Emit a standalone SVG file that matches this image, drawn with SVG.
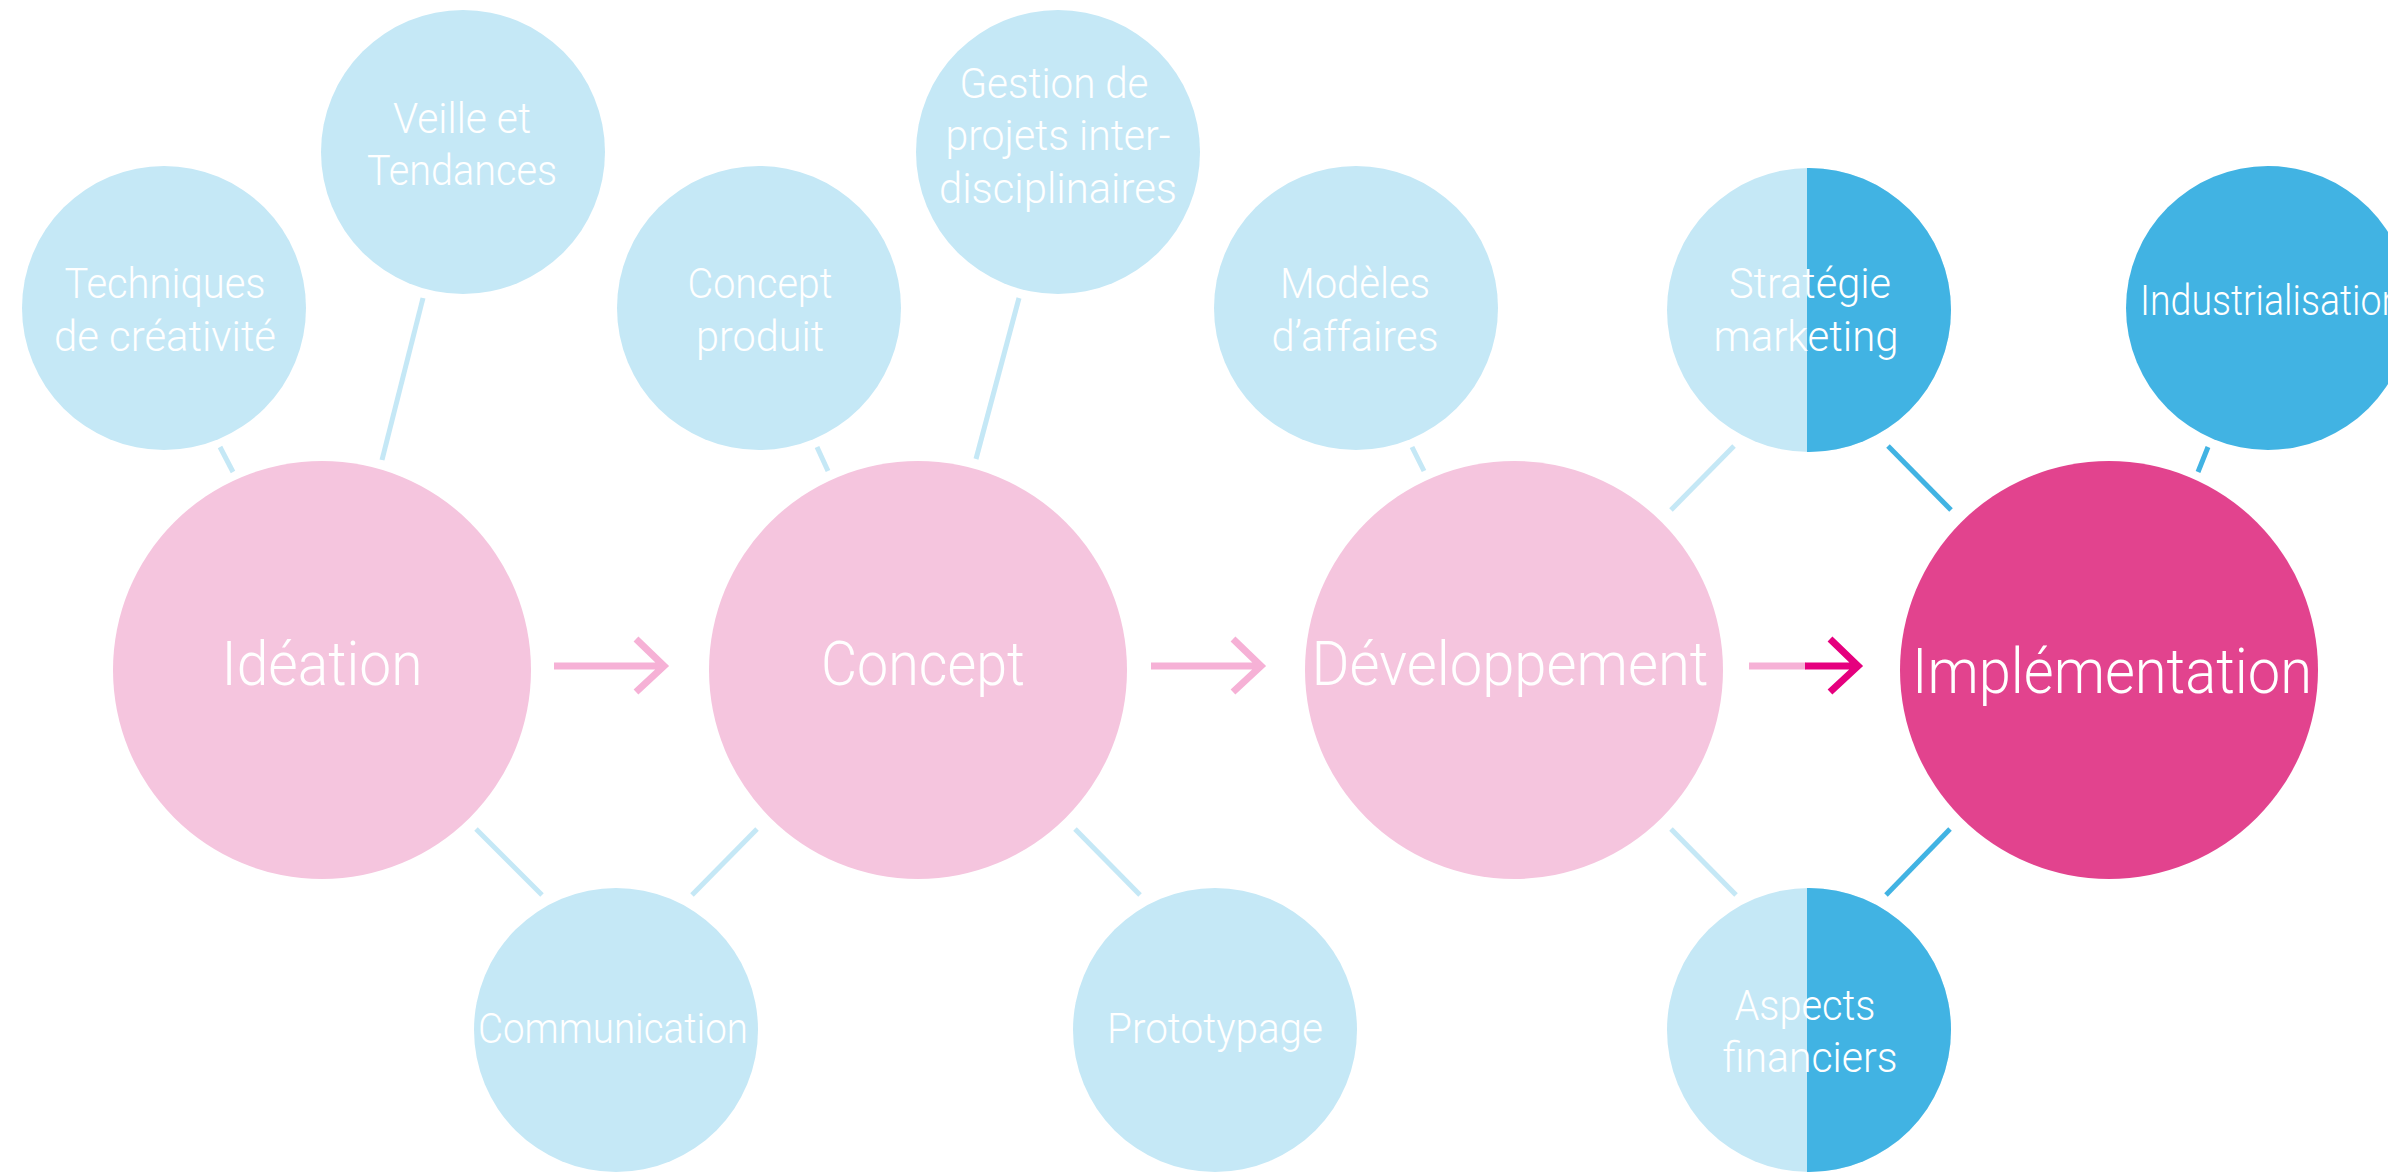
<svg xmlns="http://www.w3.org/2000/svg" width="2388" height="1173" viewBox="0 0 2388 1173">
<style>
.lb{fill:#c5e8f6}
.db{fill:#41b3e3}
.pk{fill:#f5c5de}
.mg{fill:#e2438e}
.c-l{stroke:#c5e8f6;stroke-width:5;fill:none}
.c-d{stroke:#41b3e3;stroke-width:5;fill:none}
.ar{stroke:#f6b1d6;stroke-width:7;fill:none}
.arm{stroke:#e5007e;stroke-width:7;fill:none}
text{fill:#fff;font-family:Roboto,"Liberation Sans",sans-serif;font-weight:300;text-anchor:middle}
.s{font-size:43px}
.b{font-size:62px}
</style>
<defs>
<clipPath id="rs"><rect x="1807" y="150" width="200" height="330"/></clipPath>
<clipPath id="ra"><rect x="1807" y="870" width="200" height="330"/></clipPath>
</defs>
<rect width="2388" height="1173" fill="#fff"/>
<g id="connectors">
<line class="c-l" x1="220" y1="447" x2="233" y2="472"/>
<line class="c-l" x1="423" y1="298" x2="382" y2="460"/>
<line class="c-l" x1="817" y1="447" x2="828" y2="471"/>
<line class="c-l" x1="1019" y1="298" x2="976" y2="459"/>
<line class="c-l" x1="1412" y1="447" x2="1424" y2="471"/>
<line class="c-l" x1="1734" y1="446" x2="1671" y2="510"/>
<line class="c-d" x1="1888" y1="446" x2="1951" y2="510"/>
<line class="c-d" x1="2208" y1="447" x2="2198" y2="472"/>
<line class="c-l" x1="476" y1="829" x2="542" y2="895"/>
<line class="c-l" x1="757" y1="829" x2="692" y2="895"/>
<line class="c-l" x1="1075" y1="829" x2="1140" y2="895"/>
<line class="c-l" x1="1671" y1="829" x2="1736" y2="895"/>
<line class="c-d" x1="1950" y1="829" x2="1886" y2="895"/>
<path class="ar" d="M554,666H662M636,639L664,666L636,692"/>
<path class="ar" d="M1151,666H1259M1233,639L1261,666L1233,692"/>
<path class="ar" d="M1749,666H1806"/>
<path class="arm" d="M1805,666H1856M1830,639L1858,666L1830,692"/>
</g>
<g id="n-techniques"><circle class="lb" cx="164" cy="308" r="142"/><text class="s" x="165" y="298" textLength="201" lengthAdjust="spacingAndGlyphs">Techniques</text><text class="s" x="165" y="351" textLength="222" lengthAdjust="spacingAndGlyphs">de créativité</text></g>
<g id="n-veille"><circle class="lb" cx="463" cy="152" r="142"/><text class="s" x="462" y="133" textLength="138" lengthAdjust="spacingAndGlyphs">Veille et</text><text class="s" x="462" y="185" textLength="190" lengthAdjust="spacingAndGlyphs">Tendances</text></g>
<g id="n-concept-produit"><circle class="lb" cx="759" cy="308" r="142"/><text class="s" x="760" y="298" textLength="145" lengthAdjust="spacingAndGlyphs">Concept</text><text class="s" x="760" y="351" textLength="128" lengthAdjust="spacingAndGlyphs">produit</text></g>
<g id="n-gestion"><circle class="lb" cx="1058" cy="152" r="142"/><text class="s" x="1054" y="98" textLength="189" lengthAdjust="spacingAndGlyphs">Gestion de</text><text class="s" x="1058" y="150" textLength="225" lengthAdjust="spacingAndGlyphs">projets inter-</text><text class="s" x="1058" y="203" textLength="238" lengthAdjust="spacingAndGlyphs">disciplinaires</text></g>
<g id="n-modeles"><circle class="lb" cx="1356" cy="308" r="142"/><text class="s" x="1355" y="298" textLength="150" lengthAdjust="spacingAndGlyphs">Modèles</text><text class="s" x="1355" y="351" textLength="167" lengthAdjust="spacingAndGlyphs">d’affaires</text></g>
<g id="n-strategie"><circle class="lb" cx="1809" cy="310" r="142"/><circle class="db" cx="1809" cy="310" r="142" clip-path="url(#rs)"/><text class="s" x="1810" y="298" textLength="162" lengthAdjust="spacingAndGlyphs">Stratégie</text><text class="s" x="1806" y="351" textLength="185" lengthAdjust="spacingAndGlyphs">marketing</text></g>
<g id="n-industrialisation"><circle class="db" cx="2268" cy="308" r="142"/><text class="s" x="2140" y="315" textLength="262" lengthAdjust="spacingAndGlyphs" style="text-anchor:start">Industrialisation</text></g>
<g id="n-communication"><circle class="lb" cx="616" cy="1030" r="142"/><text class="s" x="613" y="1043" textLength="270" lengthAdjust="spacingAndGlyphs">Communication</text></g>
<g id="n-prototypage"><circle class="lb" cx="1215" cy="1030" r="142"/><text class="s" x="1215" y="1043" textLength="216" lengthAdjust="spacingAndGlyphs">Prototypage</text></g>
<g id="n-aspects"><circle class="lb" cx="1809" cy="1030" r="142"/><circle class="db" cx="1809" cy="1030" r="142" clip-path="url(#ra)"/><text class="s" x="1805" y="1020" textLength="141" lengthAdjust="spacingAndGlyphs">Aspects</text><text class="s" x="1810" y="1072" textLength="175" lengthAdjust="spacingAndGlyphs">financiers</text></g>
<g id="n-ideation"><circle class="pk" cx="322" cy="670" r="209"/><text class="b" x="322" y="685" textLength="201" lengthAdjust="spacingAndGlyphs">Idéation</text></g>
<g id="n-concept"><circle class="pk" cx="918" cy="670" r="209"/><text class="b" x="923" y="685" textLength="204" lengthAdjust="spacingAndGlyphs">Concept</text></g>
<g id="n-developpement"><circle class="pk" cx="1514" cy="670" r="209"/><text class="b" x="1510" y="685" textLength="397" lengthAdjust="spacingAndGlyphs">Développement</text></g>
<g id="n-implementation"><circle class="mg" cx="2109" cy="670" r="209"/><text class="b" x="2112" y="693" textLength="400" lengthAdjust="spacingAndGlyphs" style="font-size:63px">Implémentation</text></g>
</svg>
